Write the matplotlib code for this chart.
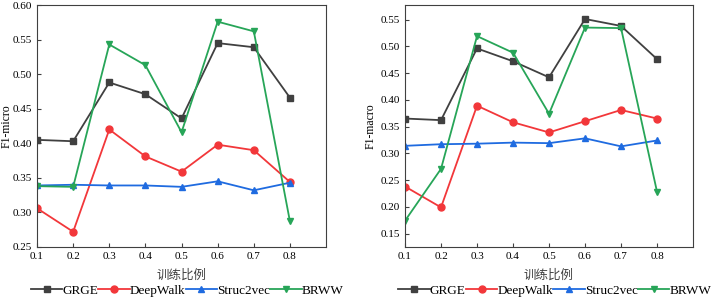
import matplotlib.pyplot as plt

plt.rcParams['font.family'] = ['Liberation Serif', 'Noto Sans CJK SC']

ratio = [0.1, 0.2, 0.3, 0.4, 0.5, 0.6, 0.7, 0.8]
names = ["GRGE", "DeepWalk", "Struc2vec", "BRWW"]

micro_grge = [0.405, 0.403, 0.488, 0.471, 0.436, 0.545, 0.539, 0.466]
micro_deepwalk = [0.306, 0.272, 0.420, 0.381, 0.359, 0.398, 0.390, 0.344]
micro_struc2vec = [0.339, 0.340, 0.339, 0.339, 0.337, 0.345, 0.332, 0.343]
micro_brww = [0.338, 0.337, 0.543, 0.513, 0.416, 0.576, 0.562, 0.287]

macro_grge = [0.365, 0.362, 0.496, 0.472, 0.442, 0.551, 0.538, 0.476]
macro_deepwalk = [0.238, 0.199, 0.389, 0.358, 0.339, 0.360, 0.381, 0.365]
macro_struc2vec = [0.314, 0.317, 0.318, 0.320, 0.319, 0.328, 0.313, 0.324]
macro_brww = [0.174, 0.271, 0.519, 0.488, 0.374, 0.535, 0.534, 0.228]

colors = ["#404040", "#f2373a", "#1f6be0", "#27a558"]
markers = ["s", "o", "^", "v"]

fig = plt.figure(figsize=(7.19, 2.99), dpi=100)
ax1 = fig.add_axes([0.0515, 0.174, 0.402, 0.809])
ax2 = fig.add_axes([0.5633, 0.174, 0.4006, 0.809])


def draw(ax, series, ylabel, ylim, yticks, labelx):
    for s, name, c, m in zip(series, names, colors, markers):
        ax.plot(ratio, s, color=c, marker=m, markersize=5, linewidth=1.3, label=name)
    ax.set_xlim(0.1, 0.9)
    ax.set_ylim(*ylim)
    ax.set_xticks(ratio)
    ax.set_xticklabels([f"{r:.1f}" for r in ratio])
    ax.set_yticks(yticks)
    ax.set_yticklabels([f"{t:.2f}" for t in yticks])
    ax.tick_params(direction="in", labelsize=8, length=3, color="#404040")
    for sp in ax.spines.values():
        sp.set_color("#404040")
    ax.set_ylabel(ylabel, fontsize=8.5)
    ax.yaxis.set_label_coords(labelx, 0.5)
    ax.set_xlabel("训练比例", fontsize=9, color="#404040", labelpad=6)
    ax.legend(loc="center", bbox_to_anchor=(0.52, -0.18), ncol=4, frameon=False,
              fontsize=9.5, handlelength=2.4, handletextpad=0.0, columnspacing=0.0,
              borderaxespad=0, borderpad=0)


draw(ax1, [micro_grge, micro_deepwalk, micro_struc2vec, micro_brww], "F1-micro",
     (0.25, 0.60), [0.25, 0.30, 0.35, 0.40, 0.45, 0.50, 0.55, 0.60], -0.085)
draw(ax2, [macro_grge, macro_deepwalk, macro_struc2vec, macro_brww], "F1-macro",
     (0.125, 0.577), [0.15, 0.20, 0.25, 0.30, 0.35, 0.40, 0.45, 0.50, 0.55], -0.1)

fig.savefig("out.png", dpi=100)
